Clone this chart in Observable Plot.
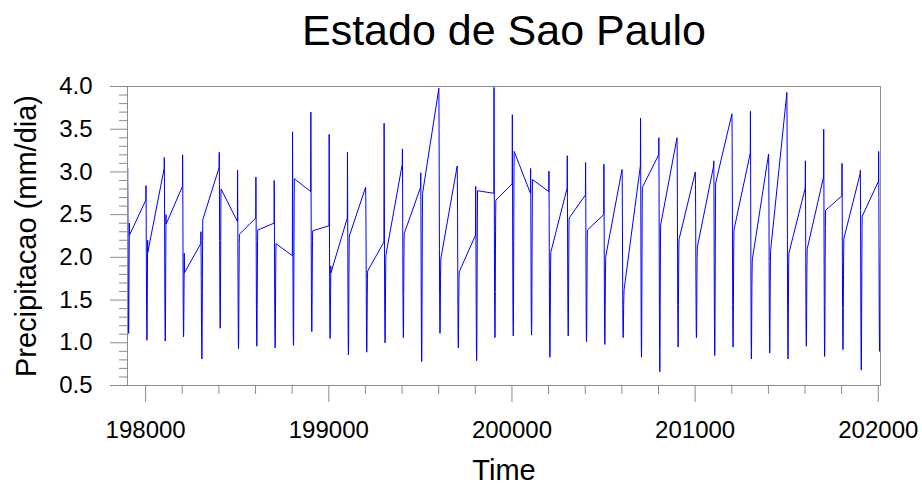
<!DOCTYPE html>
<html>
<head>
<meta charset="utf-8">
<script src="https://cdn.jsdelivr.net/npm/d3@7"></script>
<script src="https://cdn.jsdelivr.net/npm/@observablehq/plot@0.6"></script>
<style>
  html, body { margin: 0; padding: 0; background: #ffffff; }
  #chart svg { display: block; }
</style>
</head>
<body>
<div id="chart"></div>
<script>
// ---- data ----
const years = d3.range(1979, 2021);
const months = [1, 2, 3, 4, 5, 6, 7, 8, 9, 10, 11, 12];
// monthly precipitation (mm/dia), one row per year, Jan..Dec
const precip = [
  [2.95, 3.04, 2.70, 2.10, 1.60, 1.25, 1.11, 1.20, 1.65, 2.05, 2.40, 2.26], // 1979
  [2.67, 2.84, 2.50, 1.90, 1.45, 1.15, 1.03, 1.10, 1.50, 1.85, 2.20, 2.06], // 1980
  [3.04, 3.17, 2.80, 2.10, 1.55, 1.20, 1.02, 1.15, 1.60, 2.00, 2.50, 2.39], // 1981
  [2.83, 3.20, 2.75, 2.05, 1.50, 1.20, 1.07, 1.15, 1.45, 1.75, 2.05, 1.82], // 1982
  [2.16, 2.30, 2.00, 1.60, 1.20, 0.95, 0.81, 0.90, 1.30, 1.75, 2.20, 2.44], // 1983
  [3.05, 3.23, 2.85, 2.20, 1.65, 1.30, 1.17, 1.25, 1.70, 2.20, 2.65, 2.80], // 1984
  [2.42, 3.02, 2.60, 1.95, 1.40, 1.05, 0.93, 1.00, 1.40, 1.80, 2.15, 2.27], // 1985
  [2.46, 2.94, 2.55, 1.90, 1.40, 1.10, 0.96, 1.05, 1.45, 1.85, 2.20, 2.32], // 1986
  [2.40, 2.90, 2.50, 1.85, 1.35, 1.05, 0.94, 1.00, 1.40, 1.80, 2.05, 2.16], // 1987
  [2.02, 3.47, 2.90, 2.10, 1.50, 1.10, 0.97, 1.05, 1.60, 2.20, 2.70, 2.92], // 1988
  [2.77, 3.70, 3.00, 2.20, 1.60, 1.25, 1.13, 1.20, 1.60, 1.95, 2.20, 2.31], // 1989
  [2.37, 3.44, 2.85, 2.10, 1.50, 1.15, 1.05, 1.10, 1.40, 1.65, 1.90, 1.82], // 1990
  [2.46, 3.23, 2.70, 2.00, 1.40, 1.00, 0.86, 0.95, 1.40, 1.80, 2.10, 2.25], // 1991
  [2.82, 2.70, 2.40, 1.90, 1.40, 1.05, 0.89, 0.95, 1.25, 1.55, 1.75, 1.84], // 1992
  [2.18, 3.57, 2.90, 2.10, 1.50, 1.15, 1.00, 1.05, 1.35, 1.70, 1.95, 2.03], // 1993
  [3.09, 3.27, 2.80, 2.10, 1.55, 1.20, 1.06, 1.15, 1.55, 1.95, 2.20, 2.28], // 1994
  [2.82, 2.99, 2.55, 1.90, 1.35, 0.95, 0.78, 0.90, 1.45, 2.00, 2.50, 2.75], // 1995
  [3.98, 3.50, 2.80, 2.10, 1.55, 1.25, 1.11, 1.20, 1.50, 1.75, 1.90, 1.99], // 1996
  [3.07, 2.90, 2.50, 1.90, 1.40, 1.05, 0.94, 1.00, 1.30, 1.55, 1.75, 1.83], // 1997
  [2.26, 2.83, 2.40, 1.80, 1.30, 0.95, 0.79, 0.90, 1.40, 1.95, 2.45, 2.78], // 1998
  [2.75, 3.99, 3.20, 2.30, 1.60, 1.20, 1.06, 1.15, 1.60, 2.10, 2.50, 2.67], // 1999
  [2.86, 3.67, 3.00, 2.20, 1.55, 1.20, 1.08, 1.20, 1.80, 2.40, 2.95, 3.24], // 2000
  [2.75, 3.04, 2.60, 1.95, 1.45, 1.20, 1.09, 1.20, 1.70, 2.20, 2.65, 2.91], // 2001
  [2.77, 3.01, 2.55, 1.85, 1.30, 0.95, 0.83, 0.90, 1.30, 1.65, 1.90, 2.06], // 2002
  [2.81, 3.19, 2.70, 2.00, 1.50, 1.20, 1.08, 1.15, 1.55, 1.95, 2.30, 2.46], // 2003
  [2.73, 3.11, 2.65, 1.95, 1.40, 1.10, 1.01, 1.10, 1.50, 1.90, 2.20, 2.32], // 2004
  [2.50, 3.09, 2.60, 1.90, 1.35, 1.05, 0.98, 1.05, 1.40, 1.70, 1.90, 2.01], // 2005
  [3.03, 2.90, 2.45, 1.85, 1.40, 1.15, 1.06, 1.10, 1.30, 1.45, 1.55, 1.62], // 2006
  [3.07, 3.63, 3.00, 2.20, 1.50, 1.00, 0.83, 0.95, 1.50, 2.10, 2.60, 2.82], // 2007
  [3.20, 3.40, 2.85, 2.05, 1.40, 0.90, 0.66, 0.80, 1.30, 1.85, 2.25, 2.38], // 2008
  [3.40, 3.25, 2.75, 2.05, 1.45, 1.10, 0.95, 1.05, 1.45, 1.85, 2.10, 2.21], // 2009
  [3.00, 2.85, 2.45, 1.90, 1.45, 1.15, 1.06, 1.10, 1.45, 1.80, 2.00, 2.12], // 2010
  [3.07, 3.13, 2.65, 1.95, 1.35, 1.00, 0.85, 0.95, 1.50, 2.10, 2.60, 2.87], // 2011
  [3.68, 3.40, 2.80, 2.05, 1.45, 1.10, 0.95, 1.05, 1.45, 1.85, 2.15, 2.32], // 2012
  [3.22, 3.71, 3.00, 2.20, 1.50, 1.00, 0.81, 0.90, 1.30, 1.65, 1.85, 1.97], // 2013
  [3.21, 3.05, 2.60, 1.95, 1.40, 1.05, 0.88, 0.95, 1.35, 1.70, 1.95, 2.08], // 2014
  [3.93, 3.50, 2.80, 2.05, 1.40, 1.00, 0.81, 0.90, 1.35, 1.70, 1.95, 2.05], // 2015
  [2.81, 3.13, 2.65, 1.95, 1.40, 1.10, 0.96, 1.05, 1.45, 1.80, 2.00, 2.10], // 2016
  [2.94, 3.50, 2.85, 2.05, 1.45, 1.00, 0.84, 0.95, 1.45, 1.95, 2.35, 2.55], // 2017
  [2.72, 3.10, 2.60, 1.95, 1.40, 1.05, 0.92, 1.00, 1.40, 1.80, 2.05, 2.22], // 2018
  [2.98, 3.02, 2.55, 1.85, 1.25, 0.85, 0.68, 0.80, 1.30, 1.85, 2.30, 2.48], // 2019
  [2.89, 3.24, 2.70, 2.00, 1.40, 1.05, 0.90, 1.00, 1.40, 1.80, 2.10, 2.24]  // 2020
];
const xMajorTicks = [198000, 199000, 200000, 201000, 202000];
const yMajorTicks = [0.5, 1.0, 1.5, 2.0, 2.5, 3.0, 3.5, 4.0];
const titleText = "Estado de Sao Paulo";
const xLabel = "Time";
const yLabel = "Precipitacao (mm/dia)";

// ---- table: time coordinate is YYYYMM as a plain number ----
const table = [];
years.forEach((yr, i) => {
  months.forEach((m, j) => {
    table.push({t: yr * 100 + m, v: precip[i][j]});
  });
});

const xMinorTicks = d3.range(198200, 202000, 200).filter(d => d % 1000 !== 0);
const yMinorTicks = d3.range(6, 40).map(d => d / 10).filter(d => Math.round(d * 10) % 5 !== 0);

const font = "'Liberation Sans', Arial, Helvetica, sans-serif";
const axisGray = "#8c8c8c";

const chart = Plot.plot({
  width: 922,
  height: 485,
  marginLeft: 127,
  marginRight: 42,
  marginTop: 86,
  marginBottom: 100,
  style: {fontFamily: font, background: "#ffffff", color: "#000000"},
  x: {domain: [197901, 202012], label: null},
  y: {domain: [0.5, 4.0], label: null},
  marks: [
    Plot.line(table, {x: "t", y: "v", stroke: "#0000ff", strokeWidth: 1}),
    Plot.frame({stroke: axisGray, strokeWidth: 1}),
    Plot.axisX({ticks: xMajorTicks, tickSize: 17, tickPadding: 18, fontSize: 24,
      tickFormat: d3.format("d"), stroke: axisGray, fill: "#000", label: null}),
    Plot.axisX({ticks: xMinorTicks, tickSize: 9, tickFormat: () => "", stroke: axisGray, label: null}),
    Plot.axisY({ticks: yMajorTicks, tickSize: 17, tickPadding: 18, fontSize: 24,
      tickFormat: d3.format(".1f"), stroke: axisGray, fill: "#000", label: null}),
    Plot.axisY({ticks: yMinorTicks, tickSize: 8, tickFormat: () => "", stroke: axisGray, label: null}),
    Plot.text([titleText], {frameAnchor: "top", lineAnchor: "middle", textAnchor: "middle", dy: -55, fontSize: 43, fill: "#000"}),
    Plot.text([xLabel], {frameAnchor: "bottom", lineAnchor: "middle", textAnchor: "middle", dy: 85, fontSize: 29, fill: "#000"}),
    Plot.text([yLabel], {frameAnchor: "left", lineAnchor: "middle", textAnchor: "middle", rotate: -90, dx: -101, fontSize: 29, fill: "#000"})
  ]
});
document.getElementById("chart").appendChild(chart);
</script>
</body>
</html>
